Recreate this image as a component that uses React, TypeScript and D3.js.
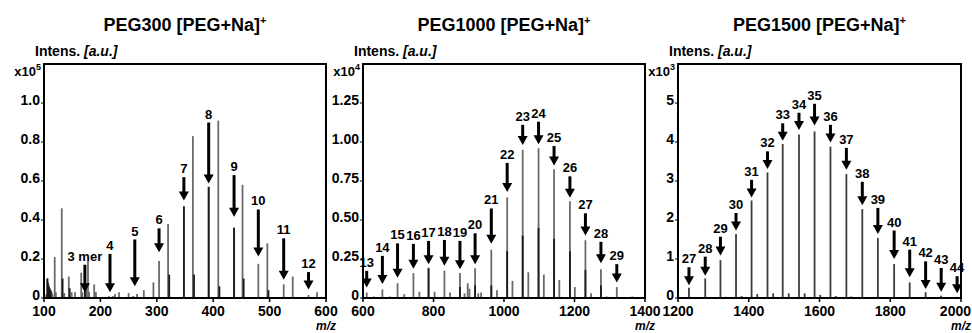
import React from "react";
import { scaleLinear } from "d3";

// PEG300 panel (x10^5)
const peg300Mz = [104, 106, 107.5, 109, 110.5, 112, 113.5, 115, 119, 121, 131.5, 136, 144, 149, 155, 166, 168, 172.5, 175, 178, 180, 189, 192, 215, 222, 226, 233, 250, 258, 265, 277, 294, 304, 320, 348, 364, 392, 409, 437, 452, 480, 496, 525, 541, 569, 584];
const peg300Int = [0.02, 0.1, 0.08, 0.06, 0.05, 0.04, 0.03, 0.02, 0.21, 0.03, 0.46, 0.025, 0.11, 0.03, 0.03, 0.13, 0.03, 0.17, 0.05, 0.19, 0.03, 0.07, 0.03, 0.01, 0.01, 0.02, 0.03, 0.025, 0.01, 0.02, 0.04, 0.08, 0.19, 0.38, 0.47, 0.83, 0.57, 0.91, 0.36, 0.58, 0.175, 0.28, 0.07, 0.11, 0.015, 0.03];
const peg300DarkMz = [106, 107.5, 109, 110.5, 112, 133, 145.5, 172.5, 322, 348, 366, 392, 411, 437, 454, 498];
const peg300DarkInt = [0.1, 0.07, 0.055, 0.045, 0.035, 0.1, 0.05, 0.17, 0.12, 0.47, 0.12, 0.57, 0.06, 0.36, 0.1, 0.04];
const peg300Labels = ["3 mer", "4", "5", "6", "7", "8", "9", "10", "11", "12"];
const peg300ArrowMz = [172.5, 217, 261, 304, 348, 392, 437, 480, 525, 569];
const peg300ArrowTop = [0.17, 0.226, 0.3, 0.357, 0.62, 0.9, 0.63, 0.454, 0.306, 0.133];
const peg300ArrowTip = [0.029, 0.029, 0.06, 0.235, 0.5, 0.587, 0.417, 0.213, 0.094, 0.043];
const peg300XTicks = [100, 200, 300, 400, 500, 600];
const peg300YTicks = [0, 0.2, 0.4, 0.6, 0.8, 1.0];
const peg300YLabels = ["0", "0.2", "0.4", "0.6", "0.8", "1.0"];

// PEG1000 panel (x10^4)
const peg1000Mz = [610.5, 631, 655, 676, 698, 717, 743, 760, 786, 803, 831, 847, 875, 888, 897, 902, 918, 927, 935, 964, 980, 1009, 1024, 1053, 1069, 1098, 1113, 1142, 1157, 1187, 1201, 1231, 1247, 1275, 1291, 1320, 1364];
const peg1000Int = [0.035, 0.01, 0.055, 0.01, 0.095, 0.025, 0.16, 0.04, 0.195, 0.04, 0.175, 0.035, 0.16, 0.03, 0.095, 0.06, 0.19, 0.03, 0.035, 0.31, 0.05, 0.645, 0.11, 0.95, 0.165, 0.96, 0.15, 0.825, 0.115, 0.62, 0.07, 0.37, 0.03, 0.185, 0.01, 0.07, 0.01];
const peg1000DarkMz = [786, 875, 918, 964, 1009, 1053, 1098, 1142, 1187, 1231, 1275];
const peg1000DarkInt = [0.19, 0.07, 0.08, 0.08, 0.3, 0.4, 0.45, 0.38, 0.3, 0.18, 0.08];
const peg1000Labels = ["13", "14", "15", "16", "17", "18", "19", "20", "21", "22", "23", "24", "25", "26", "27", "28", "29"];
const peg1000ArrowMz = [610.5, 655, 698, 743, 786, 831, 875, 918, 964, 1009, 1053, 1098, 1142, 1187, 1231, 1275, 1320];
const peg1000ArrowTop = [0.174, 0.27, 0.35, 0.347, 0.366, 0.372, 0.366, 0.415, 0.574, 0.866, 1.11, 1.13, 0.974, 0.78, 0.543, 0.36, 0.217];
const peg1000ArrowTip = [0.068, 0.09, 0.13, 0.187, 0.217, 0.206, 0.185, 0.217, 0.347, 0.68, 0.98, 0.985, 0.85, 0.643, 0.4, 0.223, 0.1];
const peg1000XTicks = [600, 800, 1000, 1200, 1400];
const peg1000YTicks = [0, 0.25, 0.5, 0.75, 1.0, 1.25];
const peg1000YLabels = ["0", "0.25", "0.50", "0.75", "1.00", "1.25"];

// PEG1500 panel (x10^3)
const peg1500Mz = [1231, 1247, 1277, 1292, 1320, 1336, 1364, 1380, 1408, 1424, 1453, 1469, 1496, 1513, 1542, 1558, 1586, 1602, 1631, 1646, 1676, 1690, 1721, 1735, 1765, 1779, 1811, 1855, 1900, 1944, 1989];
const peg1500Int = [0.26, 0.02, 0.5, 0.02, 0.97, 0.03, 1.64, 0.05, 2.5, 0.1, 3.22, 0.12, 3.95, 0.12, 4.19, 0.12, 4.27, 0.08, 3.88, 0.05, 3.18, 0.04, 2.28, 0.02, 1.54, 0.01, 0.87, 0.4, 0.15, 0.06, 0.03];
const peg1500Labels = ["27", "28", "29", "30", "31", "32", "33", "34", "35", "36", "37", "38", "39", "40", "41", "42", "43", "44"];
const peg1500ArrowMz = [1231, 1277, 1320, 1364, 1408, 1453, 1496, 1542, 1586, 1631, 1676, 1721, 1765, 1811, 1855, 1900, 1944, 1989];
const peg1500ArrowTop = [0.79, 1.06, 1.57, 2.18, 3.03, 3.76, 4.48, 4.75, 4.98, 4.44, 3.85, 2.98, 2.31, 1.73, 1.24, 0.94, 0.77, 0.56];
const peg1500ArrowTip = [0.33, 0.57, 1.09, 1.73, 2.58, 3.31, 4.03, 4.31, 4.42, 3.99, 3.29, 2.38, 1.64, 1.0, 0.53, 0.23, 0.16, 0.12];
const peg1500XTicks = [1200, 1400, 1600, 1800, 2000];
const peg1500YTicks = [0, 1, 2, 3, 4, 5];
const peg1500YLabels = ["0", "1", "2", "3", "4", "5"];

const FONT = "'Liberation Sans', Arial, sans-serif";
const W = 972;
const TOP = 64;
const BOTTOM = 298;
const XFS = 14;

function Panel(props: any) {
    const { left, right, title, exp, xDomain, yMax, xTicks, yTicks, yLabels, peakColor } = props;
    const x = scaleLinear().domain(xDomain).range([left, right]);
    const y = scaleLinear().domain([0, yMax]).range([BOTTOM, TOP]);
    const cx = (left + right) / 2;

    return (
        <g fontFamily={FONT} fontWeight="bold">
            <text x={cx} y={31} fontSize={18} textAnchor="middle">
                {title} [PEG+Na]<tspan dy={-7} fontSize={11}>+</tspan>
            </text>
            <text x={left - 9} y={56} fontSize={14}>
                Intens. <tspan fontStyle="italic">[a.u.]</tspan>
            </text>
            <text x={left - 3} y={76} fontSize={13} textAnchor="end">
                x10<tspan dy={-6} fontSize={9}>{exp}</tspan>
            </text>

            {/* peaks */}
            {props.mz.map((m: number, i: number) => (
                <line key={"p" + i} x1={x(m)} x2={x(m)} y1={y(0)} y2={y(props.int[i])} stroke={peakColor} strokeWidth={1.8} />
            ))}
            {props.darkMz.map((m: number, i: number) => (
                <line key={"d" + i} x1={x(m)} x2={x(m)} y1={y(0)} y2={y(props.darkInt[i])} stroke="#1a1a1a" strokeWidth={1.8} />
            ))}

            {/* arrows */}
            {props.labels.map((lab: string, i: number) => {
                const ax = x(props.arrowMz[i]);
                const yt = y(props.arrowTop[i]);
                const yp = y(props.arrowTip[i]);
                return (
                    <g key={"a" + i}>
                        <line x1={ax} x2={ax} y1={yt} y2={yp - 7} stroke="#000" strokeWidth={3} />
                        <path d={`M${ax - 5},${yp - 9} L${ax + 5},${yp - 9} L${ax},${yp} Z`} fill="#000" />
                        <text x={ax} y={yt - 4} fontSize={13} textAnchor="middle" fill="#000">
                            {lab}
                        </text>
                    </g>
                );
            })}

            {/* frame */}
            <rect x={left} y={TOP} width={right - left} height={BOTTOM - TOP} fill="none" stroke="#000" strokeWidth={2} />

            {/* y axis */}
            {yTicks.map((t: number, i: number) => (
                <g key={"y" + i}>
                    <line x1={left - 3} x2={left} y1={y(t)} y2={y(t)} stroke="#000" strokeWidth={1} />
                    <text x={left - 4} y={y(t) + 2} fontSize={14} textAnchor="end">
                        {yLabels[i]}
                    </text>
                </g>
            ))}

            {/* x axis */}
            {xTicks.map((t: number) => {
                const half = (String(t).length * 0.556 * XFS) / 2;
                const lx = Math.min(x(t), W - half - 1);
                return (
                    <g key={"x" + t}>
                        <line x1={x(t)} x2={x(t)} y1={BOTTOM} y2={BOTTOM + 4} stroke="#000" strokeWidth={1.5} />
                        <text x={lx} y={316} fontSize={XFS} textAnchor="middle">
                            {t}
                        </text>
                    </g>
                );
            })}
            <text x={right + 10} y={330} fontSize={12} fontStyle="italic" textAnchor="end">
                m/z
            </text>
        </g>
    );
}

export default function App() {
    return (
        <svg width={W} height={333} style={{ position: "absolute", left: 0, top: 0, background: "#fff" }}>
            <rect width={W} height={333} fill="#fff" />
            <Panel
                left={44}
                right={326}
                title="PEG300"
                exp="5"
                xDomain={[100, 600]}
                yMax={1.2}
                xTicks={peg300XTicks}
                yTicks={peg300YTicks}
                yLabels={peg300YLabels}
                peakColor="#6a6a6a"
                mz={peg300Mz}
                int={peg300Int}
                darkMz={peg300DarkMz}
                darkInt={peg300DarkInt}
                labels={peg300Labels}
                arrowMz={peg300ArrowMz}
                arrowTop={peg300ArrowTop}
                arrowTip={peg300ArrowTip}
            />
            <Panel
                left={363}
                right={645}
                title="PEG1000"
                exp="4"
                xDomain={[600, 1400]}
                yMax={1.5}
                xTicks={peg1000XTicks}
                yTicks={peg1000YTicks}
                yLabels={peg1000YLabels}
                peakColor="#6a6a6a"
                mz={peg1000Mz}
                int={peg1000Int}
                darkMz={peg1000DarkMz}
                darkInt={peg1000DarkInt}
                labels={peg1000Labels}
                arrowMz={peg1000ArrowMz}
                arrowTop={peg1000ArrowTop}
                arrowTip={peg1000ArrowTip}
            />
            <Panel
                left={678}
                right={961}
                title="PEG1500"
                exp="3"
                xDomain={[1200, 2000]}
                yMax={6}
                xTicks={peg1500XTicks}
                yTicks={peg1500YTicks}
                yLabels={peg1500YLabels}
                peakColor="#3c3c3c"
                mz={peg1500Mz}
                int={peg1500Int}
                darkMz={[]}
                darkInt={[]}
                labels={peg1500Labels}
                arrowMz={peg1500ArrowMz}
                arrowTop={peg1500ArrowTop}
                arrowTip={peg1500ArrowTip}
            />
        </svg>
    );
}
